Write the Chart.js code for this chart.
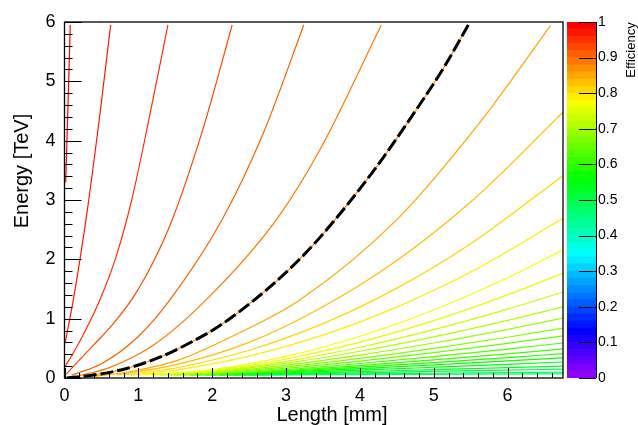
<!DOCTYPE html>
<html>
<head>
<meta charset="utf-8">
<script src="https://cdn.jsdelivr.net/npm/chart.js@4.4.0/dist/chart.umd.min.js"></script>
<style>
  html, body { margin: 0; padding: 0; background: #fff; }
  #wrap { position: relative; width: 638px; height: 425px; }
  #mainChart { position: absolute; left: 0; top: 0; }
  #barChart { position: absolute; left: 560px; top: 0; }
</style>
</head>
<body>
<div id="wrap">
  <canvas id="mainChart" width="638" height="425"></canvas>
  <canvas id="barChart" width="78" height="425"></canvas>
</div>
<script>
// axis ticks
const xTicks = [0, 1, 2, 3, 4, 5, 6];
const yTicks = [0, 1, 2, 3, 4, 5, 6];
const barTicks = [0, 0.1, 0.2, 0.3, 0.4, 0.5, 0.6, 0.7, 0.8, 0.9, 1];

// efficiency level of each contour line
const levels = [0.98, 0.96, 0.94, 0.92, 0.90, 0.88, 0.86, 0.84, 0.82, 0.80, 0.78, 0.76, 0.74,
                0.72, 0.70, 0.68, 0.66, 0.64, 0.62, 0.60, 0.58, 0.56, 0.54, 0.52, 0.50, 0.48, 0.46];

// length [mm] points along each contour
const contourL = [
  [0.016, 0.05, 0.078],
  [0.01, 0.12, 0.30, 0.48, 0.625],
  [0.01, 0.10, 0.25, 0.48, 0.70, 0.91, 1.15, 1.40],
  [0.02, 0.20, 0.39, 0.65, 0.91, 1.20, 1.46, 1.90, 2.27],
  [0.10, 0.50, 1.00, 1.43, 2.135, 2.70, 3.24],
  [0.20, 0.60, 1.20, 1.92, 2.87, 3.46, 4.29],
  [0.39, 0.84, 1.29, 1.74, 2.10, 2.555, 3.00, 3.46, 4.22, 4.675, 5.13, 5.47],
  [0.40, 0.90, 1.56, 2.30, 3.19, 4.50, 5.62, 6.58],
  [0.70, 1.50, 2.50, 3.50, 4.50, 5.53, 6.75],
  [0.80, 1.50, 2.50, 3.50, 4.50, 5.50, 6.75],
  [0.90, 1.50, 2.50, 3.50, 4.50, 5.50, 6.75],
  [1.0, 2, 3, 4, 5, 6, 6.75],
  [1.1, 2, 3, 4, 5, 6, 6.75],
  [1.2, 2, 3, 4, 5, 6, 6.75],
  [1.3, 2, 3, 4, 5, 6, 6.75],
  [1.4, 2, 3, 4, 5, 6, 6.75],
  [1.5, 2, 3, 4, 5, 6, 6.75],
  [1.6, 2, 3, 4, 5, 6, 6.75],
  [1.7, 2, 3, 4, 5, 6, 6.75],
  [1.8, 2, 3, 4, 5, 6, 6.75],
  [1.9, 2, 3, 4, 5, 6, 6.75],
  [2.0, 3, 4, 5, 6, 6.75],
  [2.1, 3, 4, 5, 6, 6.75],
  [2.2, 3, 4, 5, 6, 6.75],
  [2.3, 3, 4, 5, 6, 6.75],
  [2.4, 3, 4, 5, 6, 6.75],
  [2.5, 3, 4, 5, 6, 6.75]
];

// energy [TeV] points along each contour
const contourE = [
  [3.3, 4.7, 5.95],
  [0.6, 1.32, 2.75, 4.45, 5.95],
  [0.2, 0.38, 0.72, 1.32, 2.05, 3.0, 4.4, 5.95],
  [0.06, 0.30, 0.55, 0.90, 1.32, 1.95, 2.67, 4.3, 5.95],
  [0.05, 0.24, 0.70, 1.32, 2.67, 4.15, 5.95],
  [0.04, 0.17, 0.55, 1.32, 2.67, 3.85, 5.95],
  [0.05, 0.16, 0.35, 0.62, 0.88, 1.30, 1.78, 2.37, 3.55, 4.36, 5.22, 5.95],
  [0.03, 0.11, 0.31, 0.72, 1.32, 2.67, 4.30, 5.94],
  [0.05, 0.22, 0.60, 1.20, 1.98, 3.00, 4.48],
  [0.048, 0.168, 0.468, 0.916, 1.515, 2.263, 3.41],
  [0.048, 0.133, 0.369, 0.723, 1.195, 1.785, 2.69],
  [0.05, 0.141, 0.364, 0.704, 1.147, 1.69, 2.16],
  [0.05, 0.126, 0.32, 0.604, 0.966, 1.40, 1.77],
  [0.05, 0.113, 0.28, 0.518, 0.814, 1.16, 1.45],
  [0.05, 0.103, 0.25, 0.451, 0.693, 0.971, 1.20],
  [0.05, 0.09, 0.217, 0.387, 0.59, 0.821, 1.01],
  [0.05, 0.079, 0.187, 0.33, 0.498, 0.687, 0.84],
  [0.05, 0.071, 0.164, 0.285, 0.427, 0.584, 0.71],
  [0.05, 0.064, 0.142, 0.244, 0.361, 0.488, 0.59],
  [0.05, 0.058, 0.125, 0.21, 0.305, 0.408, 0.49],
  [0.05, 0.053, 0.111, 0.182, 0.26, 0.344, 0.41],
  [0.05, 0.098, 0.157, 0.221, 0.288, 0.34],
  [0.05, 0.086, 0.132, 0.181, 0.231, 0.27],
  [0.05, 0.074, 0.107, 0.14, 0.174, 0.20],
  [0.05, 0.066, 0.088, 0.111, 0.133, 0.15],
  [0.05, 0.057, 0.068, 0.08, 0.091, 0.10],
  [0.05, 0.052, 0.057, 0.062, 0.066, 0.07]
];

// black dashed curve
const boundaryL = [0.03, 0.39, 0.84, 1.29, 1.74, 2.10, 2.555, 3.00, 3.46, 4.22, 4.675, 5.13, 5.49];
const boundaryE = [0.00, 0.05, 0.16, 0.35, 0.62, 0.88, 1.30, 1.78, 2.37, 3.55, 4.36, 5.22, 6.00];

const FONT = '"Liberation Sans", Arial, Helvetica, sans-serif';

// ROOT "pretty" palette, 50 bands violet -> red
function bandColor(i) {
  const hue = 280 - (i + 1) * 5.6;
  return `hsl(${hue}, 100%, 50%)`;
}
function levelColor(v) {
  return bandColor(Math.min(49, Math.round(v * 50)));
}

const datasets = [{
  data: boundaryL.map((l, i) => ({ x: l, y: boundaryE[i] })),
  borderColor: '#000',
  borderWidth: 3,
  borderDash: [13, 4],
  order: 0
}];
levels.forEach((v, k) => {
  datasets.push({
    data: contourL[k].map((l, i) => ({ x: l, y: contourE[k][i] })),
    borderColor: levelColor(v),
    borderWidth: 1.2,
    order: 1
  });
});

const frameAndTicks = {
  id: 'frameAndTicks',
  afterDatasetsDraw(chart) {
    const { ctx, chartArea: a, scales: { x, y } } = chart;
    ctx.save();
    ctx.strokeStyle = '#000';
    ctx.lineWidth = 1;
    ctx.beginPath();
    // x ticks, pointing up into the plot
    for (let v = 0; v <= 6.75 + 1e-9; v += 0.2) {
      const px = Math.round(x.getPixelForValue(v)) + 0.5;
      const major = Math.abs(v - Math.round(v)) < 1e-6;
      ctx.moveTo(px, a.bottom);
      ctx.lineTo(px, a.bottom - (major ? 10 : 5));
    }
    // y ticks, pointing right into the plot
    for (let v = 0; v <= 6 + 1e-9; v += 0.2) {
      const py = Math.round(y.getPixelForValue(v)) + 0.5;
      const major = Math.abs(v - Math.round(v)) < 1e-6;
      ctx.moveTo(a.left, py);
      ctx.lineTo(a.left + (major ? 17 : 8), py);
    }
    ctx.stroke();
    ctx.lineWidth = 1.3;
    ctx.strokeRect(a.left, a.top, a.right - a.left, a.bottom - a.top);

    ctx.fillStyle = '#000';
    ctx.font = '20px ' + FONT;
    ctx.textAlign = 'center';
    ctx.textBaseline = 'alphabetic';
    ctx.fillText('Length [mm]', 332, 421);
    ctx.translate(28, 171);
    ctx.rotate(-Math.PI / 2);
    ctx.fillText('Energy [TeV]', 0, 0);
    ctx.restore();
  }
};

new Chart(document.getElementById('mainChart'), {
  type: 'scatter',
  data: { datasets },
  options: {
    responsive: false,
    animation: false,
    showLine: true,
    layout: { padding: { top: 22, right: 75, left: 0, bottom: 0 } },
    elements: {
      point: { radius: 0 },
      line: { cubicInterpolationMode: 'monotone', fill: false }
    },
    plugins: { legend: { display: false }, tooltip: { enabled: false } },
    scales: {
      x: {
        type: 'linear', min: 0, max: 6.75,
        grid: { display: false, drawTicks: false },
        border: { display: false },
        afterBuildTicks: s => { s.ticks = xTicks.map(v => ({ value: v })); },
        afterFit: s => { s.height = 47; },
        ticks: { color: '#000', padding: 7, maxRotation: 0, font: { family: FONT, size: 18 } }
      },
      y: {
        type: 'linear', min: 0, max: 6,
        grid: { display: false, drawTicks: false },
        border: { display: false },
        afterBuildTicks: s => { s.ticks = yTicks.map(v => ({ value: v })); },
        afterFit: s => { s.width = 64.5; },
        ticks: { color: '#000', padding: 9, font: { family: FONT, size: 18 } }
      }
    }
  },
  plugins: [frameAndTicks]
});

// colour bar
const bandLevels = [];
for (let i = 0; i < 50; i++) bandLevels.push(i / 50);

const barTicksPlugin = {
  id: 'barTicks',
  afterDatasetsDraw(chart) {
    const { ctx, chartArea: a, scales: { y } } = chart;
    ctx.save();
    ctx.strokeStyle = '#000';
    ctx.lineWidth = 1;
    ctx.beginPath();
    barTicks.forEach(v => {
      const py = Math.round(y.getPixelForValue(v)) + 0.5;
      ctx.moveTo(a.right, py);
      ctx.lineTo(a.right - 17, py);
    });
    ctx.moveTo(a.right + 0.5, a.top);
    ctx.lineTo(a.right + 0.5, a.bottom);
    ctx.stroke();
    ctx.fillStyle = '#000';
    ctx.font = '13px ' + FONT;
    ctx.textAlign = 'center';
    ctx.translate(74.5, 50);
    ctx.rotate(-Math.PI / 2);
    ctx.fillText('Efficiency', 0, 0);
    ctx.restore();
  }
};

new Chart(document.getElementById('barChart'), {
  type: 'bar',
  data: {
    labels: ['eff'],
    datasets: bandLevels.map((v, i) => ({
      data: [0.02],
      backgroundColor: bandColor(i),
      borderWidth: 0,
      barPercentage: 1,
      categoryPercentage: 1
    }))
  },
  options: {
    responsive: false,
    animation: false,
    layout: { padding: { top: 22, left: 7, bottom: 47, right: 0 } },
    plugins: { legend: { display: false }, tooltip: { enabled: false } },
    scales: {
      x: { stacked: true, display: false },
      y: {
        stacked: true, position: 'right', min: 0, max: 1,
        grid: { display: false, drawTicks: false },
        border: { display: false },
        afterBuildTicks: s => { s.ticks = barTicks.map(v => ({ value: v })); },
        afterFit: s => { s.width = 42; },
        ticks: {
          color: '#000', padding: 2,
          font: { family: FONT, size: 14 },
          callback: v => String(+v.toFixed(1))
        }
      }
    }
  },
  plugins: [barTicksPlugin]
});
</script>
</body>
</html>
